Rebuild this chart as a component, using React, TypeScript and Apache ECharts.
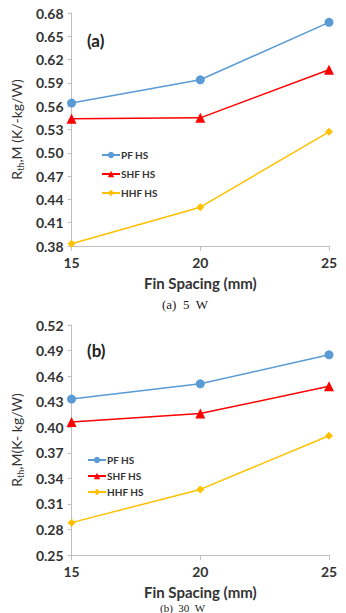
import React, { useEffect, useRef } from "react";
import * as echarts from "echarts";

const finSpacing = [15, 20, 25];
const seriesNames = ["PF HS", "SHF HS", "HHF HS"];
// (a) 5 W
const pf5W = [0.564, 0.594, 0.668];
const shf5W = [0.544, 0.545, 0.607];
const hhf5W = [0.383, 0.43, 0.527];
// (b) 30 W
const pf30W = [0.433, 0.451, 0.485];
const shf30W = [0.406, 0.416, 0.448];
const hhf30W = [0.288, 0.327, 0.39];

const yRangeA = [0.38, 0.68];
const yRangeB = [0.25, 0.52];
const yStep = 0.03;

const colors = ["#5B9BD5", "#FF0000", "#FFC000"];
const symbols = ["circle", "triangle", "diamond"];
const symbolSizes = [9, 10, 8];

const FONT = "Lato, 'Open Sans', sans-serif";

export default function App() {
  const ref = useRef<HTMLDivElement>(null);
  useEffect(() => {
    if (!ref.current) return;
    const chart = echarts.init(ref.current, null, { renderer: "svg" });
    const pair = (arr: number[]) => arr.map((v, i) => [finSpacing[i], v]);
    const dataA = [pf5W, shf5W, hhf5W];
    const dataB = [pf30W, shf30W, hhf30W];

    const mkX = (gridIndex: number) => ({
      type: "value",
      gridIndex,
      min: finSpacing[0],
      max: finSpacing[finSpacing.length - 1],
      interval: 5,
      axisLine: { lineStyle: { color: "#BFBFBF", width: 1 } },
      axisTick: { show: true, length: 5, lineStyle: { color: "#BFBFBF" } },
      splitLine: { show: false },
      axisLabel: { fontFamily: FONT, fontWeight: "bold", fontSize: 14, color: "#333", margin: 9 },
      name: "Fin Spacing (mm)",
      nameLocation: "middle",
      nameGap: 29,
      nameTextStyle: { fontFamily: FONT, fontWeight: "bold", fontSize: 15, color: "#333" },
    });

    const mkY = (gridIndex: number, range: number[], title: string) => ({
      type: "value",
      gridIndex,
      min: range[0],
      max: range[1],
      interval: yStep,
      axisLine: { show: true, lineStyle: { color: "#BFBFBF", width: 1 } },
      axisTick: { show: true, length: 4, lineStyle: { color: "#BFBFBF" } },
      splitLine: { show: false },
      axisLabel: {
        fontFamily: FONT,
        fontWeight: "bold",
        fontSize: 14,
        color: "#333",
        margin: 8,
        formatter: (v: number) => v.toFixed(2),
      },
      name: "{r|R}{s|th}{r|" + title + "}",
      nameLocation: "middle",
      nameRotate: 90,
      nameGap: 44,
      nameTextStyle: {
        rich: {
          r: { fontFamily: FONT, fontSize: 14, color: "#333", lineHeight: 18 },
          s: { fontFamily: FONT, fontSize: 9, color: "#333", lineHeight: 18, padding: [8, 0, 0, 0] },
        },
      },
    });

    const series: any[] = [];
    [dataA, dataB].forEach((data, g) => {
      data.forEach((arr, i) => {
        series.push({
          type: "line",
          name: seriesNames[i],
          xAxisIndex: g,
          yAxisIndex: g,
          data: pair(arr),
          symbol: symbols[i],
          symbolSize: symbolSizes[i],
          itemStyle: { color: colors[i] },
          lineStyle: { color: colors[i], width: 1.5 },
        });
      });
    });

    const legendBase = {
      data: seriesNames,
      orient: "vertical",
      itemWidth: 18,
      itemHeight: 8,
      textStyle: { fontFamily: FONT, fontWeight: "bold", fontSize: 10, color: "#333", padding: [0, 0, 0, -4] },
      selectedMode: false,
    };

    chart.setOption({
      animation: false,
      backgroundColor: "#fff",
      grid: [
        { left: 59, right: 17, top: 13, height: 233 },
        { left: 59, right: 17, top: 325, height: 230 },
      ],
      xAxis: [mkX(0), mkX(1)],
      yAxis: [mkY(0, yRangeA, ",M (K/-kg/W)"), mkY(1, yRangeB, ",M(K- kg/W)")],
      legend: [
        { ...legendBase, left: 96, top: 145, itemGap: 9 },
        { ...legendBase, left: 82, top: 450, itemGap: 6 },
      ],
      graphic: [
        { type: "text", left: 87, top: 32, style: { text: "(a)", fontFamily: FONT, fontWeight: "bold", fontSize: 17, fill: "#222" } },
        { type: "text", left: 87, top: 342, style: { text: "(b)", fontFamily: FONT, fontWeight: "bold", fontSize: 17, fill: "#222" } },
        { type: "text", left: 162, top: 298, style: { text: "(a)  5  W", fontFamily: "'Liberation Serif', serif", fontSize: 13, fill: "#222" } },
        { type: "text", left: 160, top: 602, style: { text: "(b)  30  W", fontFamily: "'Liberation Serif', serif", fontSize: 11, fill: "#222" } },
      ],
      series,
    });
    return () => chart.dispose();
  }, []);
  return <div ref={ref} style={{ position: "absolute", left: 0, top: 0, width: 346, height: 613 }} />;
}
